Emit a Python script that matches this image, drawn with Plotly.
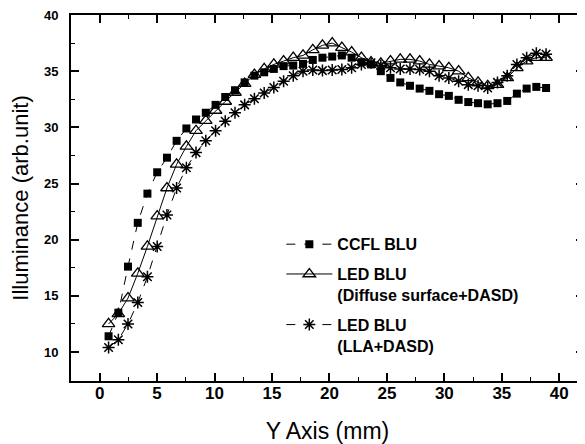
import plotly.graph_objects as go

# x positions (mm)
y_axis_mm = [0.78, 1.63, 2.47, 3.32, 4.16, 5.01, 5.86, 6.70, 7.55, 8.39,
             9.24, 10.09, 10.93, 11.78, 12.62, 13.47, 14.32, 15.16, 16.01, 16.85,
             17.70, 18.55, 19.39, 20.24, 21.08, 21.93, 22.78, 23.62, 24.47, 25.31,
             26.16, 27.01, 27.85, 28.70, 29.54, 30.39, 31.24, 32.08, 32.93, 33.77,
             34.62, 35.47, 36.31, 37.16, 38.00, 38.85]

ccfl_blu = [11.4, 13.5, 17.6, 21.5, 24.1, 26.0, 27.3, 28.8, 29.9, 30.7,
            31.3, 32.0, 32.7, 33.3, 34.0, 34.6, 34.9, 35.2, 35.45, 35.5,
            35.65, 36.0, 36.2, 36.3, 36.4, 36.2, 35.8, 35.6, 35.0, 34.4,
            34.0, 33.7, 33.45, 33.25, 32.95, 32.8, 32.45, 32.25, 32.15, 32.05,
            32.15, 32.35, 33.0, 33.45, 33.6, 33.5]

led_diffuse = [12.5, 13.4, 14.8, 17.0, 19.4, 22.1, 24.6, 26.7, 28.3, 29.7,
               30.6, 31.5, 32.3, 33.1, 33.9, 34.7, 35.2, 35.6, 35.9, 36.2,
               36.4, 36.9, 37.3, 37.5, 37.1, 36.7, 36.2, 35.8, 35.7, 35.9,
               36.05, 36.05, 35.9, 35.6, 35.45, 35.3, 35.0, 34.4, 34.0, 33.7,
               33.8, 34.4, 35.3, 35.9, 36.2, 36.2]

led_lla = [10.4, 11.1, 12.5, 14.4, 16.7, 19.4, 22.2, 24.6, 26.4, 27.75,
           28.8, 29.7, 30.55, 31.3, 32.0, 32.55, 33.05, 33.55, 34.1, 34.6,
           35.0, 35.1, 35.05, 35.1, 35.15, 35.3, 35.6, 35.75, 35.5, 35.3,
           35.2, 35.2, 35.15, 35.0, 34.6, 34.4, 34.1, 33.8, 33.7, 33.5,
           34.0, 34.6, 35.6, 36.2, 36.6, 36.5]

series_names = ["CCFL BLU", "LED BLU<br>(Diffuse surface+DASD)", "LED BLU<br>(LLA+DASD)"]
x_ticks = [0, 5, 10, 15, 20, 25, 30, 35, 40]
y_ticks = [10, 15, 20, 25, 30, 35, 40]

FONT = "Arial, Liberation Sans, sans-serif"

fig = go.Figure()
fig.add_trace(go.Scatter(
    x=y_axis_mm, y=ccfl_blu, name=series_names[0], mode="lines+markers",
    legendgroup="a",
    line=dict(color="black", width=1, dash="dash"),
    marker=dict(symbol="square", size=8, color="black")))
fig.add_trace(go.Scatter(
    x=y_axis_mm, y=led_diffuse, name=series_names[1], mode="lines+markers",
    legendgroup="b",
    line=dict(color="black", width=1),
    marker=dict(symbol="triangle-up-open", size=11, color="black", line=dict(width=1.3))))
fig.add_trace(go.Scatter(
    x=y_axis_mm, y=led_lla, name=series_names[2], mode="lines+markers",
    legendgroup="c",
    line=dict(color="black", width=1, dash="dash"),
    marker=dict(symbol="asterisk-open", size=10, color="black", line=dict(width=1.5, color="black"))))

axis_common = dict(
    showline=True, linecolor="black", linewidth=2, mirror="allticks",
    ticks="inside", tickcolor="black", tickwidth=1.5, ticklen=8,
    showgrid=False, zeroline=False, automargin=False,
    ticklabeloverflow="allow",
    minor=dict(ticks="inside", ticklen=4, tickcolor="black", tickwidth=1),
)

fig.update_xaxes(range=[-2.49, 42.15], tickvals=x_ticks, **axis_common,
                 minor_dtick=2.5, minor_tick0=0,
                 tickfont=dict(family=FONT, size=17, color="black", weight="bold"),
                 ticklabelstandoff=-4,
                 title=dict(text="Y Axis (mm)", font=dict(family=FONT, size=23, color="black"), standoff=20))
fig.update_yaxes(range=[7.42, 40], tickvals=y_ticks, **axis_common,
                 minor_dtick=2.5, minor_tick0=0,
                 tickfont=dict(family=FONT, size=13, color="black", weight="bold"),
                 ticklabelstandoff=8,
                 title=dict(text="Illuminance (arb.unit)", font=dict(family=FONT, size=22, color="black"), standoff=26))

# the page body adds an 8px offset, so the figure is sized to fit the window
fig.update_layout(
    width=577, height=436,
    margin=dict(l=63, r=1, t=7, b=63),
    paper_bgcolor="white", plot_bgcolor="white",
    showlegend=True,
    legend=dict(x=0.41, y=0.42, xanchor="left", yanchor="top",
                bgcolor="rgba(0,0,0,0)", valign="top",
                traceorder="grouped", tracegroupgap=6,
                itemwidth=46,
                font=dict(family=FONT, size=16, color="black", weight="bold")),
)

fig.write_html("out.html")
